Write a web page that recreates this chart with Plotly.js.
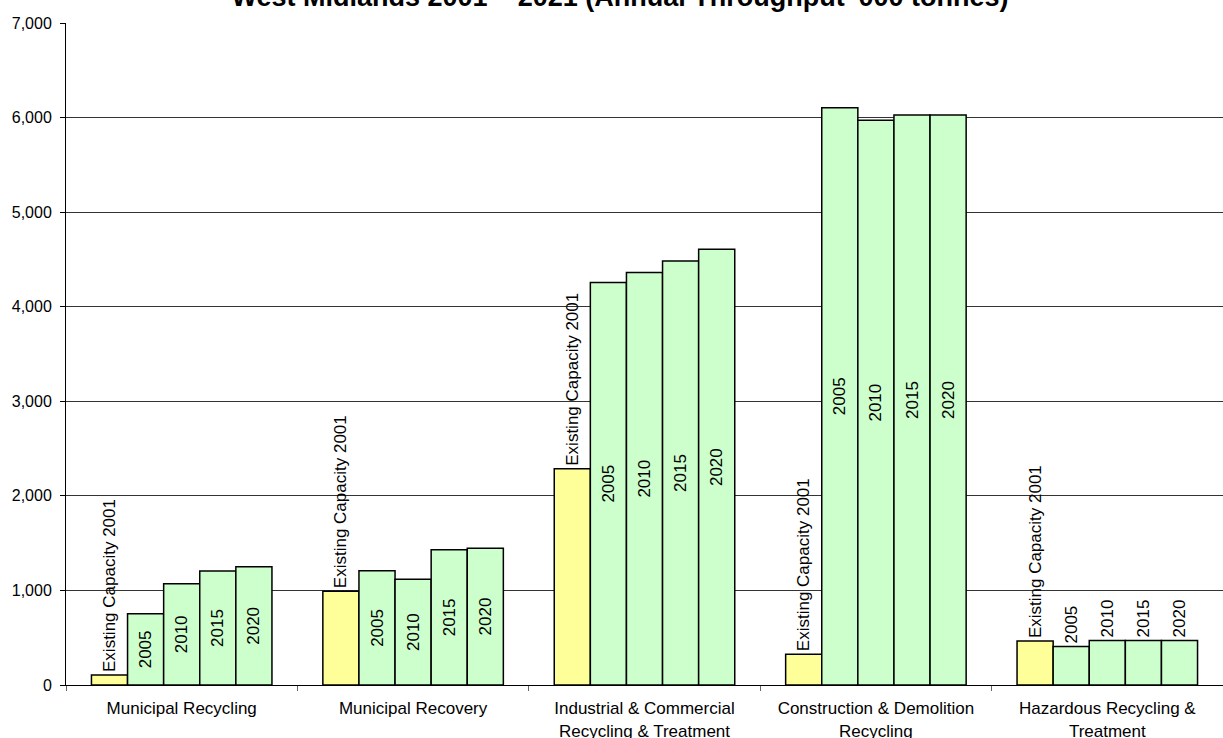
<!DOCTYPE html>
<html>
<head>
<meta charset="utf-8">
<script src="https://cdn.plot.ly/plotly-3.0.1.min.js"></script>
<style>
html,body{margin:0;padding:0;background:#fff;}
#chart{width:1223px;height:738px;}
</style>
</head>
<body>
<div id="chart"></div>
<script>
const categories = [
  "Municipal Recycling",
  "Municipal Recovery",
  "Industrial & Commercial<br>Recycling & Treatment",
  "Construction & Demolition<br>Recycling",
  "Hazardous Recycling &<br>Treatment"
];
const seriesNames = ["Existing Capacity 2001", "2005", "2010", "2015", "2020"];
const existing2001 = [106, 992, 2287, 326, 464];
const y2005 = [753, 1207, 4257, 6105, 407];
const y2010 = [1071, 1119, 4363, 5971, 471];
const y2015 = [1205, 1430, 4483, 6027, 471];
const y2020 = [1251, 1447, 4607, 6027, 471];
const yTickVals = [0, 1000, 2000, 3000, 4000, 5000, 6000, 7000];

const FONT = "Liberation Sans, Arial, Helvetica, sans-serif";
const seriesValues = [existing2001, y2005, y2010, y2015, y2020];
const colors = ["#FFFF99", "#CCFFCC", "#CCFFCC", "#CCFFCC", "#CCFFCC"];

const traces = seriesValues.map((vals, i) => ({
  type: "bar",
  name: seriesNames[i],
  x: categories,
  y: vals,
  text: vals.map(() => seriesNames[i]),
  texttemplate: "%{text}",
  textposition: i === 0 ? "outside" : ["inside", "inside", "inside", "inside", "outside"],
  insidetextanchor: "middle",
  textangle: -90,
  constraintext: "none",
  cliponaxis: false,
  textfont: {family: FONT, size: 17, color: "#000"},
  insidetextfont: {family: FONT, size: 17, color: "#000"},
  outsidetextfont: {family: FONT, size: 17, color: "#000"},
  marker: {color: colors[i], line: {color: "#000", width: 1.5}},
  hoverinfo: "skip"
}));

const layout = {
  width: 1223,
  height: 738,
  margin: {l: 66, r: 0, t: 23, b: 53},
  paper_bgcolor: "#fff",
  plot_bgcolor: "#fff",
  showlegend: false,
  barmode: "group",
  bargap: 0.22,
  bargroupgap: 0,
  font: {family: FONT, size: 17, color: "#000"},
  title: {
    text: "<b>West Midlands 2001 – 2021 (Annual Throughput '000 tonnes)</b>",
    font: {family: FONT, size: 27, color: "#000"},
    x: 0.507, xref: "container", xanchor: "center",
    y: 0.992, yref: "container", yanchor: "bottom"
  },
  xaxis: {
    type: "category",
    showline: true, linecolor: "#000", linewidth: 1,
    ticks: "outside", ticklen: 5, tickcolor: "#666", tickson: "boundaries",
    ticklabelstandoff: 8,
    showgrid: false,
    tickfont: {family: FONT, size: 17, color: "#000"},
    automargin: false
  },
  yaxis: {
    range: [0, 7000],
    tickvals: yTickVals,
    tickformat: ",d",
    showline: true, linecolor: "#000", linewidth: 1,
    ticks: "outside", ticklen: 5, tickcolor: "#000",
    ticklabelstandoff: 5,
    showgrid: true, gridcolor: "#333", gridwidth: 1,
    zeroline: false,
    tickfont: {family: FONT, size: 16, color: "#000"},
    automargin: false
  }
};

Plotly.newPlot("chart", traces, layout, {displayModeBar: false, staticPlot: true});
</script>
</body>
</html>
